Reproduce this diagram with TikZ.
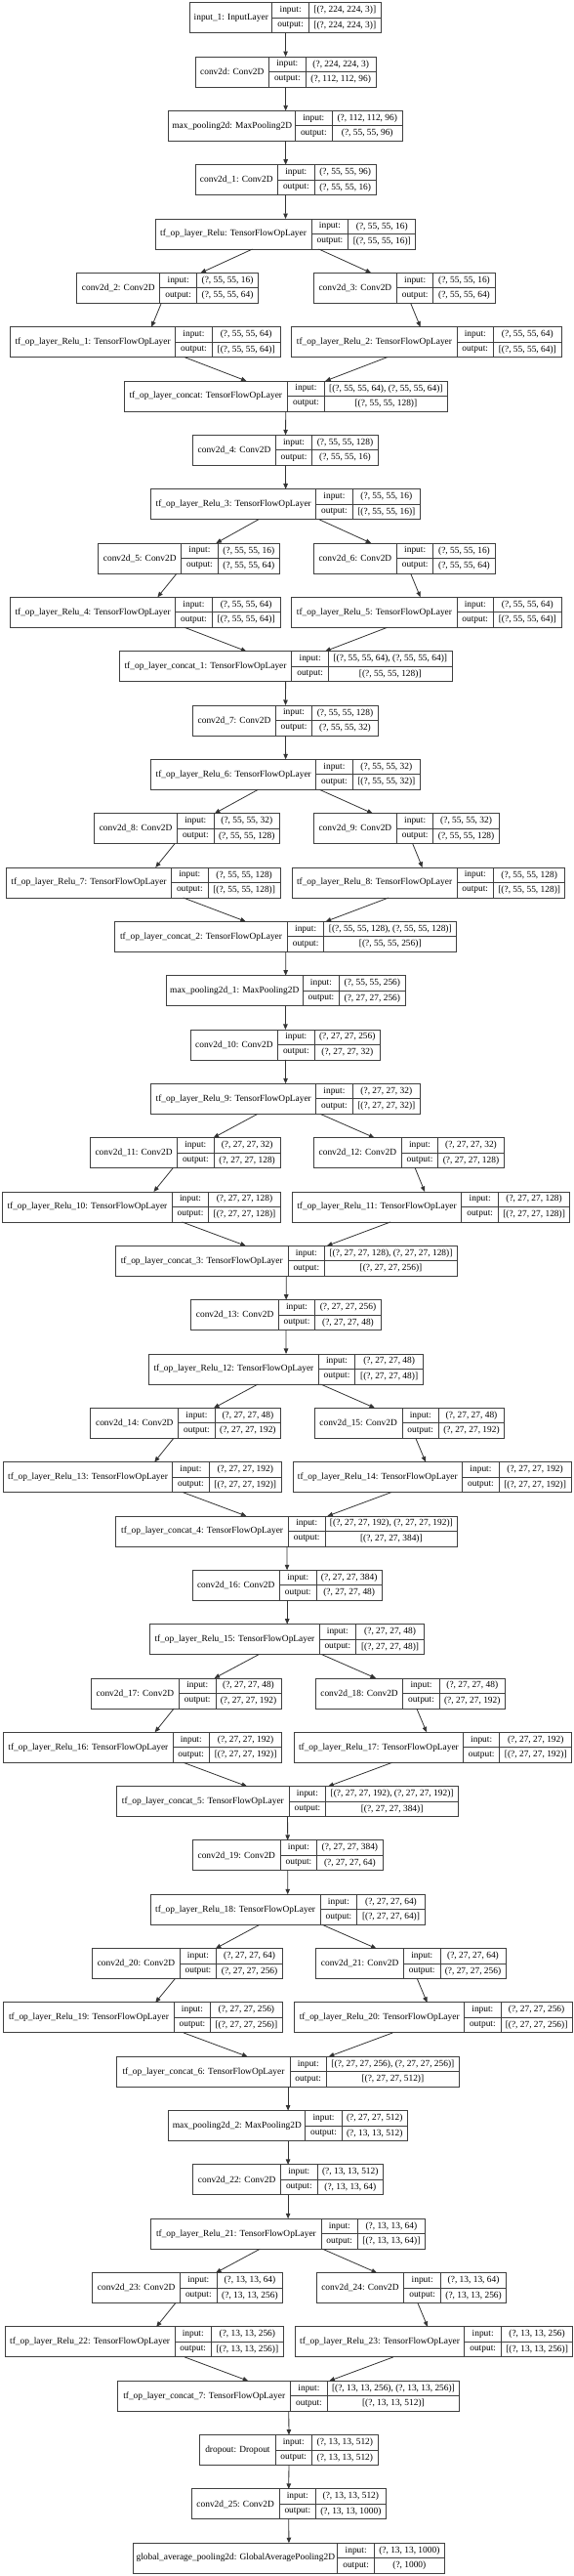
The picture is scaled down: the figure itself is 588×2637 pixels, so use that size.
\documentclass[tikz,border=0pt]{standalone}
\usepackage{fontspec}
\setmainfont{Liberation Serif}
\usepackage{tikz}
\usetikzlibrary{arrows.meta}
\tikzset{
  caja/.style={draw=black!75,line width=0.9pt,inner sep=0pt,outer sep=0pt,minimum height=31pt},
  linea/.style={black!75,line width=0.9pt},
  txt/.style={inner sep=0pt,font=\fontsize{9.4}{10}\selectfont},
  flecha/.style={-{Triangle[length=5.5pt,width=4.5pt]},black!80,line width=0.8pt}
}
% one record: name, row, left edge, key column, right edge, label, input, output
\newcommand{\capa}[8]{%
  \pgfmathsetmacro{\yt}{2.7+(#2-1)*55.33}%
  \node[caja,minimum width={(#5)-(#3)}] (#1) at ({((#3)+(#5))/2},{\yt+15.5}) {};
  \draw[linea] (#4,{\yt}) -- (#4,{\yt+31}) ({#4+37.5},{\yt}) -- ({#4+37.5},{\yt+31})
    (#4,{\yt+15.5}) -- (#5,{\yt+15.5});
  \node[txt] (#1-l) at ({((#3)+(#4))/2},{\yt+15.5}) {#6};
  \node[txt] (#1-i) at ({#4+18.75},{\yt+7.75}) {input:};
  \node[txt] (#1-o) at ({#4+18.75},{\yt+23.25}) {output:};
  \node[txt] (#1-a) at ({((#4)+37.5+(#5))/2},{\yt+7.75}) {#7};
  \node[txt] (#1-b) at ({((#4)+37.5+(#5))/2},{\yt+23.25}) {#8};
}
\begin{document}
\begin{tikzpicture}[x=1pt,y=-1pt]
\useasboundingbox (0,0) rectangle (588,2637);
\capa{inp}{1}{194.7}{278.9}{390.2}{input\_1: InputLayer}{[(?, 224, 224, 3)]}{[(?, 224, 224, 3)]}
\capa{conv}{2}{200}{275.6}{385.3}{conv2d: Conv2D}{(?, 224, 224, 3)}{(?, 112, 112, 96)}
\capa{mp}{3}{172.9}{302.6}{412.4}{max\_pooling2d: MaxPooling2D}{(?, 112, 112, 96)}{(?, 55, 55, 96)}
\capa{conv1}{4}{200}{284.6}{385.3}{conv2d\_1: Conv2D}{(?, 55, 55, 96)}{(?, 55, 55, 16)}
\capa{relu}{5}{159}{319.2}{425.9}{tf\_op\_layer\_Relu: TensorFlowOpLayer}{(?, 55, 55, 16)}{[(?, 55, 55, 16)]}
\capa{conv2}{6}{78.6}{163.9}{264.7}{conv2d\_2: Conv2D}{(?, 55, 55, 16)}{(?, 55, 55, 64)}
\capa{conv3}{6}{321.4}{406.4}{507.1}{conv2d\_3: Conv2D}{(?, 55, 55, 16)}{(?, 55, 55, 64)}
\capa{relu1}{7}{10.5}{179.7}{287.2}{tf\_op\_layer\_Relu\_1: TensorFlowOpLayer}{(?, 55, 55, 64)}{[(?, 55, 55, 64)]}
\capa{relu2}{7}{298.9}{468}{575.2}{tf\_op\_layer\_Relu\_2: TensorFlowOpLayer}{(?, 55, 55, 64)}{[(?, 55, 55, 64)]}
\capa{cat}{8}{127}{294.7}{458.6}{tf\_op\_layer\_concat: TensorFlowOpLayer}{[(?, 55, 55, 64), (?, 55, 55, 64)]}{[(?, 55, 55, 128)]}
\capa{conv4}{9}{197.7}{282.3}{387.2}{conv2d\_4: Conv2D}{(?, 55, 55, 128)}{(?, 55, 55, 16)}
\capa{relu3}{10}{154.9}{323.7}{430.5}{tf\_op\_layer\_Relu\_3: TensorFlowOpLayer}{(?, 55, 55, 16)}{[(?, 55, 55, 16)]}
\capa{conv5}{11}{100.8}{185.7}{286.5}{conv2d\_5: Conv2D}{(?, 55, 55, 16)}{(?, 55, 55, 64)}
\capa{conv6}{11}{321.4}{406.4}{507.1}{conv2d\_6: Conv2D}{(?, 55, 55, 16)}{(?, 55, 55, 64)}
\capa{relu4}{12}{10.5}{179.7}{287.2}{tf\_op\_layer\_Relu\_4: TensorFlowOpLayer}{(?, 55, 55, 64)}{[(?, 55, 55, 64)]}
\capa{relu5}{12}{298.9}{468}{575.2}{tf\_op\_layer\_Relu\_5: TensorFlowOpLayer}{(?, 55, 55, 64)}{[(?, 55, 55, 64)]}
\capa{cat1}{13}{122.2}{298.9}{463.2}{tf\_op\_layer\_concat\_1: TensorFlowOpLayer}{[(?, 55, 55, 64), (?, 55, 55, 64)]}{[(?, 55, 55, 128)]}
\capa{conv7}{14}{197.7}{282.3}{387.2}{conv2d\_7: Conv2D}{(?, 55, 55, 128)}{(?, 55, 55, 32)}
\capa{relu6}{15}{154.9}{323.7}{430.5}{tf\_op\_layer\_Relu\_6: TensorFlowOpLayer}{(?, 55, 55, 32)}{[(?, 55, 55, 32)]}
\capa{conv8}{16}{96.6}{181.6}{286.5}{conv2d\_8: Conv2D}{(?, 55, 55, 32)}{(?, 55, 55, 128)}
\capa{conv9}{16}{321.4}{406.4}{511.3}{conv2d\_9: Conv2D}{(?, 55, 55, 32)}{(?, 55, 55, 128)}
\capa{relu7}{17}{6.4}{175.6}{287.2}{tf\_op\_layer\_Relu\_7: TensorFlowOpLayer}{(?, 55, 55, 128)}{[(?, 55, 55, 128)]}
\capa{relu8}{17}{299.2}{468}{578.9}{tf\_op\_layer\_Relu\_8: TensorFlowOpLayer}{(?, 55, 55, 128)}{[(?, 55, 55, 128)]}
\capa{cat2}{18}{117.7}{294.4}{467.7}{tf\_op\_layer\_concat\_2: TensorFlowOpLayer}{[(?, 55, 55, 128), (?, 55, 55, 128)]}{[(?, 55, 55, 256)]}
\capa{mp1}{19}{170.3}{310.2}{415}{max\_pooling2d\_1: MaxPooling2D}{(?, 55, 55, 256)}{(?, 27, 27, 256)}
\capa{conv10}{20}{195.1}{284.6}{389.5}{conv2d\_10: Conv2D}{(?, 27, 27, 256)}{(?, 27, 27, 32)}
\capa{relu9}{21}{154.9}{323.7}{430.5}{tf\_op\_layer\_Relu\_9: TensorFlowOpLayer}{(?, 27, 27, 32)}{[(?, 27, 27, 32)]}
\capa{conv11}{22}{92.5}{181.6}{287.2}{conv2d\_11: Conv2D}{(?, 27, 27, 32)}{(?, 27, 27, 128)}
\capa{conv12}{22}{321.4}{411.3}{516.2}{conv2d\_12: Conv2D}{(?, 27, 27, 32)}{(?, 27, 27, 128)}
\capa{relu10}{23}{2.6}{176.3}{287.2}{tf\_op\_layer\_Relu\_10: TensorFlowOpLayer}{(?, 27, 27, 128)}{[(?, 27, 27, 128)]}
\capa{relu11}{23}{299.2}{472.9}{583.8}{tf\_op\_layer\_Relu\_11: TensorFlowOpLayer}{(?, 27, 27, 128)}{[(?, 27, 27, 128)]}
\capa{cat3}{24}{118.4}{295.1}{468.4}{tf\_op\_layer\_concat\_3: TensorFlowOpLayer}{[(?, 27, 27, 128), (?, 27, 27, 128)]}{[(?, 27, 27, 256)]}
\capa{conv13}{25}{195.9}{285.3}{390.2}{conv2d\_13: Conv2D}{(?, 27, 27, 256)}{(?, 27, 27, 48)}
\capa{relu12}{26}{152.6}{326.3}{433.5}{tf\_op\_layer\_Relu\_12: TensorFlowOpLayer}{(?, 27, 27, 48)}{[(?, 27, 27, 48)]}
\capa{conv14}{27}{92.9}{182.7}{287.6}{conv2d\_14: Conv2D}{(?, 27, 27, 48)}{(?, 27, 27, 192)}
\capa{conv15}{27}{322.2}{412}{516.5}{conv2d\_15: Conv2D}{(?, 27, 27, 48)}{(?, 27, 27, 192)}
\capa{relu13}{28}{3.4}{176.7}{288.3}{tf\_op\_layer\_Relu\_13: TensorFlowOpLayer}{(?, 27, 27, 192)}{[(?, 27, 27, 192)]}
\capa{relu14}{28}{300}{473.7}{585}{tf\_op\_layer\_Relu\_14: TensorFlowOpLayer}{(?, 27, 27, 192)}{[(?, 27, 27, 192)]}
\capa{cat4}{29}{118.8}{295.5}{468.8}{tf\_op\_layer\_concat\_4: TensorFlowOpLayer}{[(?, 27, 27, 192), (?, 27, 27, 192)]}{[(?, 27, 27, 384)]}
\capa{conv16}{30}{197}{286.5}{391.4}{conv2d\_16: Conv2D}{(?, 27, 27, 384)}{(?, 27, 27, 48)}
\capa{relu15}{31}{153.8}{327.1}{434.6}{tf\_op\_layer\_Relu\_15: TensorFlowOpLayer}{(?, 27, 27, 48)}{[(?, 27, 27, 48)]}
\capa{conv17}{32}{93.2}{183.5}{288}{conv2d\_17: Conv2D}{(?, 27, 27, 48)}{(?, 27, 27, 192)}
\capa{conv18}{32}{323.3}{412.8}{517.3}{conv2d\_18: Conv2D}{(?, 27, 27, 48)}{(?, 27, 27, 192)}
\capa{relu16}{33}{3.8}{177}{288.7}{tf\_op\_layer\_Relu\_16: TensorFlowOpLayer}{(?, 27, 27, 192)}{[(?, 27, 27, 192)]}
\capa{relu17}{33}{301.5}{474.4}{585.7}{tf\_op\_layer\_Relu\_17: TensorFlowOpLayer}{(?, 27, 27, 192)}{[(?, 27, 27, 192)]}
\capa{cat5}{34}{119.5}{296.2}{469.5}{tf\_op\_layer\_concat\_5: TensorFlowOpLayer}{[(?, 27, 27, 192), (?, 27, 27, 192)]}{[(?, 27, 27, 384)]}
\capa{conv19}{35}{197.4}{287.2}{392.1}{conv2d\_19: Conv2D}{(?, 27, 27, 384)}{(?, 27, 27, 64)}
\capa{relu18}{36}{154.1}{328.2}{435.3}{tf\_op\_layer\_Relu\_18: TensorFlowOpLayer}{(?, 27, 27, 64)}{[(?, 27, 27, 64)]}
\capa{conv20}{37}{94.7}{184.2}{289.5}{conv2d\_20: Conv2D}{(?, 27, 27, 64)}{(?, 27, 27, 256)}
\capa{conv21}{37}{323.7}{413.5}{518}{conv2d\_21: Conv2D}{(?, 27, 27, 64)}{(?, 27, 27, 256)}
\capa{relu19}{38}{3.8}{178.2}{289.1}{tf\_op\_layer\_Relu\_19: TensorFlowOpLayer}{(?, 27, 27, 256)}{[(?, 27, 27, 256)]}
\capa{relu20}{38}{301.9}{475.6}{586.1}{tf\_op\_layer\_Relu\_20: TensorFlowOpLayer}{(?, 27, 27, 256)}{[(?, 27, 27, 256)]}
\capa{cat6}{39}{119.9}{297}{470.3}{tf\_op\_layer\_concat\_6: TensorFlowOpLayer}{[(?, 27, 27, 256), (?, 27, 27, 256)]}{[(?, 27, 27, 512)]}
\capa{mp2}{40}{172.9}{312.8}{417.3}{max\_pooling2d\_2: MaxPooling2D}{(?, 27, 27, 512)}{(?, 13, 13, 512)}
\capa{conv22}{41}{197.7}{287.6}{392.5}{conv2d\_22: Conv2D}{(?, 13, 13, 512)}{(?, 13, 13, 64)}
\capa{relu21}{42}{154.9}{329}{435.3}{tf\_op\_layer\_Relu\_21: TensorFlowOpLayer}{(?, 13, 13, 64)}{[(?, 13, 13, 64)]}
\capa{conv23}{43}{94.7}{184.6}{289.8}{conv2d\_23: Conv2D}{(?, 13, 13, 64)}{(?, 13, 13, 256)}
\capa{conv24}{43}{324.1}{413.9}{518.8}{conv2d\_24: Conv2D}{(?, 13, 13, 64)}{(?, 13, 13, 256)}
\capa{relu22}{44}{5.3}{179}{290.2}{tf\_op\_layer\_Relu\_22: TensorFlowOpLayer}{(?, 13, 13, 256)}{[(?, 13, 13, 256)]}
\capa{relu23}{44}{302.3}{475.9}{586.8}{tf\_op\_layer\_Relu\_23: TensorFlowOpLayer}{(?, 13, 13, 256)}{[(?, 13, 13, 256)]}
\capa{cat7}{45}{120.7}{297.7}{470.7}{tf\_op\_layer\_concat\_7: TensorFlowOpLayer}{[(?, 13, 13, 256), (?, 13, 13, 256)]}{[(?, 13, 13, 512)]}
\capa{drop}{46}{204.9}{282}{387.2}{dropout: Dropout}{(?, 13, 13, 512)}{(?, 13, 13, 512)}
\capa{conv25}{47}{196.2}{286.1}{395.1}{conv2d\_25: Conv2D}{(?, 13, 13, 512)}{(?, 13, 13, 1000)}
\capa{gap}{48}{136.8}{345.9}{455.3}{global\_average\_pooling2d: GlobalAveragePooling2D}{(?, 13, 13, 1000)}{(?, 1000)}
% fire modules
\foreach \s/\r/\p/\q/\u/\v/\c in {conv1/relu/conv2/conv3/relu1/relu2/cat,
    conv4/relu3/conv5/conv6/relu4/relu5/cat1, conv7/relu6/conv8/conv9/relu7/relu8/cat2,
    conv10/relu9/conv11/conv12/relu10/relu11/cat3, conv13/relu12/conv14/conv15/relu13/relu14/cat4,
    conv16/relu15/conv17/conv18/relu16/relu17/cat5, conv19/relu18/conv20/conv21/relu19/relu20/cat6,
    conv22/relu21/conv23/conv24/relu22/relu23/cat7}{
  \draw[flecha] (\s) -- (\r); \draw[flecha] (\r) -- (\p); \draw[flecha] (\r) -- (\q);
  \draw[flecha] (\p) -- (\u); \draw[flecha] (\q) -- (\v);
  \draw[flecha] (\u) -- (\c); \draw[flecha] (\v) -- (\c);
}
\foreach \a/\b in {inp/conv,conv/mp,mp/conv1,cat/conv4,cat1/conv7,cat2/mp1,mp1/conv10,
    cat3/conv13,cat4/conv16,cat5/conv19,cat6/mp2,mp2/conv22,cat7/drop,drop/conv25,conv25/gap}
  \draw[flecha] (\a) -- (\b);
\end{tikzpicture}
\end{document}
